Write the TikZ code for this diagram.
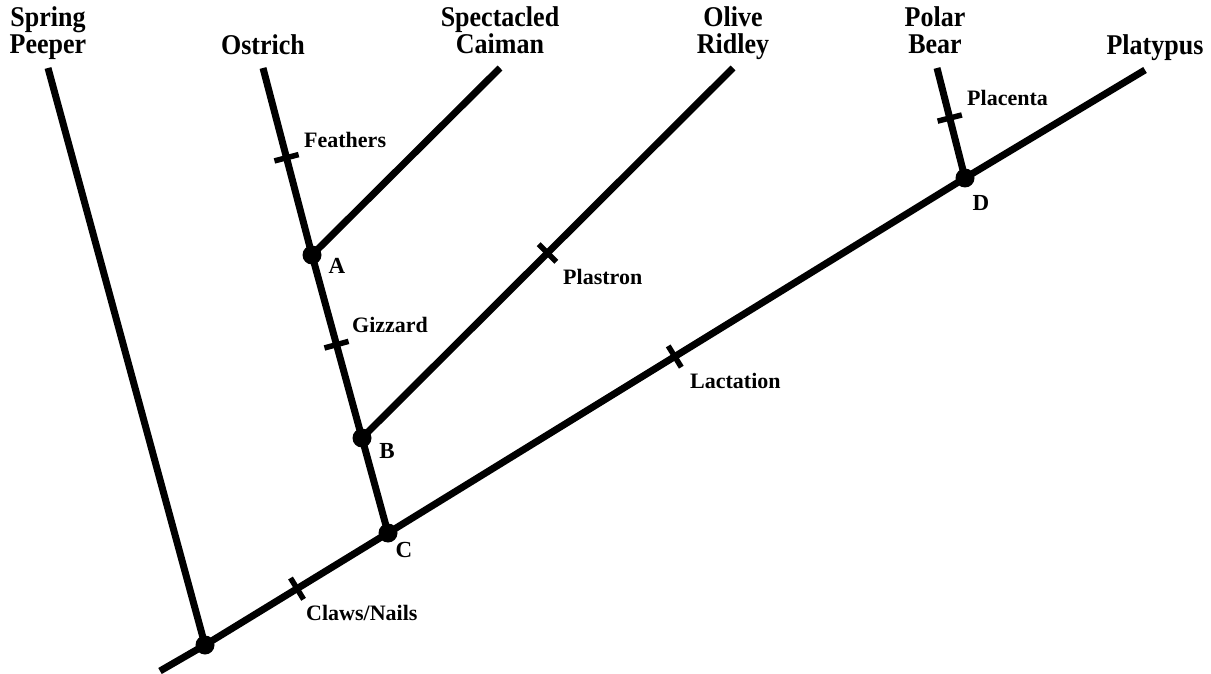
\documentclass[tikz,border=0pt]{standalone}
\usepackage{fontspec}
\setmainfont{Liberation Serif}
\usetikzlibrary{calc}
\newcommand{\tallline}[1]{\scalebox{1}[1.1]{#1}}
\tikzset{
  branch/.style={line width=7pt, line cap=butt},
  tickmark/.style={line width=5.5pt},
  dot/.style={circle, fill=black, inner sep=0pt, minimum size=19pt},
  tip/.style={font=\fontsize{26}{27}\selectfont\bfseries, align=center, inner sep=0pt, anchor=base},
  trait/.style={font=\fontsize{22}{24}\selectfont\bfseries, inner sep=0pt, anchor=west},
  letter/.style={font=\fontsize{23}{26}\selectfont\bfseries, inner sep=0pt},
}
\begin{document}
\begin{tikzpicture}[x=1pt,y=-1pt]
\useasboundingbox (0,0) rectangle (1211,674);
% taxa ends
\coordinate (tail) at (160,671);
\coordinate (sp) at (48,68);
\coordinate (os) at (263,68);
\coordinate (ca) at (500,68);
\coordinate (ol) at (733,68);
\coordinate (pb) at (937,68);
\coordinate (pl) at (1145,70);
% internal nodes
\node[dot] (R) at (205,645) {};
\node[dot] (C) at (388,533) {};
\node[dot] (B) at (362,438) {};
\node[dot] (A) at (312,255) {};
\node[dot] (D) at (965,178) {};
% branches
\draw[branch] (tail) -- (R.center) -- (C.center) -- (D.center) -- (pl);
\draw[branch] (R.center) -- (sp);
\draw[branch] (C.center) -- (B.center) -- (A.center) -- (os);
\draw[branch] (A.center) -- (ca);
\draw[branch] (B.center) -- (ol);
\draw[branch] (D.center) -- (pb);
% ticks
\coordinate (t1) at ($(A)!0.52!(os)$);
\coordinate (t2) at ($(B)!0.51!(A)$);
\coordinate (t3) at ($(B)!0.50!(ol)$);
\coordinate (t4) at ($(C)!0.497!(D)$);
\coordinate (t5) at ($(D)!0.545!(pb)$);
\coordinate (t6) at ($(R)!0.503!(C)$);
\draw[tickmark] ($(t1)!12.5pt!90:(os)$) -- ($(t1)!12.5pt!-90:(os)$);
\draw[tickmark] ($(t2)!12.5pt!90:(A)$) -- ($(t2)!12.5pt!-90:(A)$);
\draw[tickmark] ($(t3)!12.5pt!90:(ol)$) -- ($(t3)!12.5pt!-90:(ol)$);
\draw[tickmark] ($(t4)!12.5pt!90:(D)$) -- ($(t4)!12.5pt!-90:(D)$);
\draw[tickmark] ($(t5)!12.5pt!90:(pb)$) -- ($(t5)!12.5pt!-90:(pb)$);
\draw[tickmark] ($(t6)!12.5pt!90:(C)$) -- ($(t6)!12.5pt!-90:(C)$);
% trait labels
\node[trait] (lf) at (304,140) {Feathers};
\node[trait] (lg) at (352,325) {Gizzard};
\node[trait] (lp) at (563,277) {Plastron};
\node[trait] (ll) at (690,381) {Lactation};
\node[trait] (lpl) at (967,98) {Placenta};
\node[trait] (lc) at (306,613) {Claws/Nails};
% node letters
\node[letter] (lA) at (337,266) {A};
\node[letter] (lB) at (387,451) {B};
\node[letter] (lC) at (404,550) {C};
\node[letter] (lD) at (981,203) {D};
% tip labels
\node[tip] (nsp) at (48,54) {\tallline{Spring}\\\tallline{Peeper}};
\node[tip] (nos) at (263,55) {\tallline{Ostrich}};
\node[tip] (nca) at (500,54) {\tallline{Spectacled}\\\tallline{Caiman}};
\node[tip] (nol) at (733,54) {\tallline{Olive}\\\tallline{Ridley}};
\node[tip] (npb) at (935,54) {\tallline{Polar}\\\tallline{Bear}};
\node[tip] (npl) at (1155,55) {\tallline{Platypus}};
\end{tikzpicture}
\end{document}
